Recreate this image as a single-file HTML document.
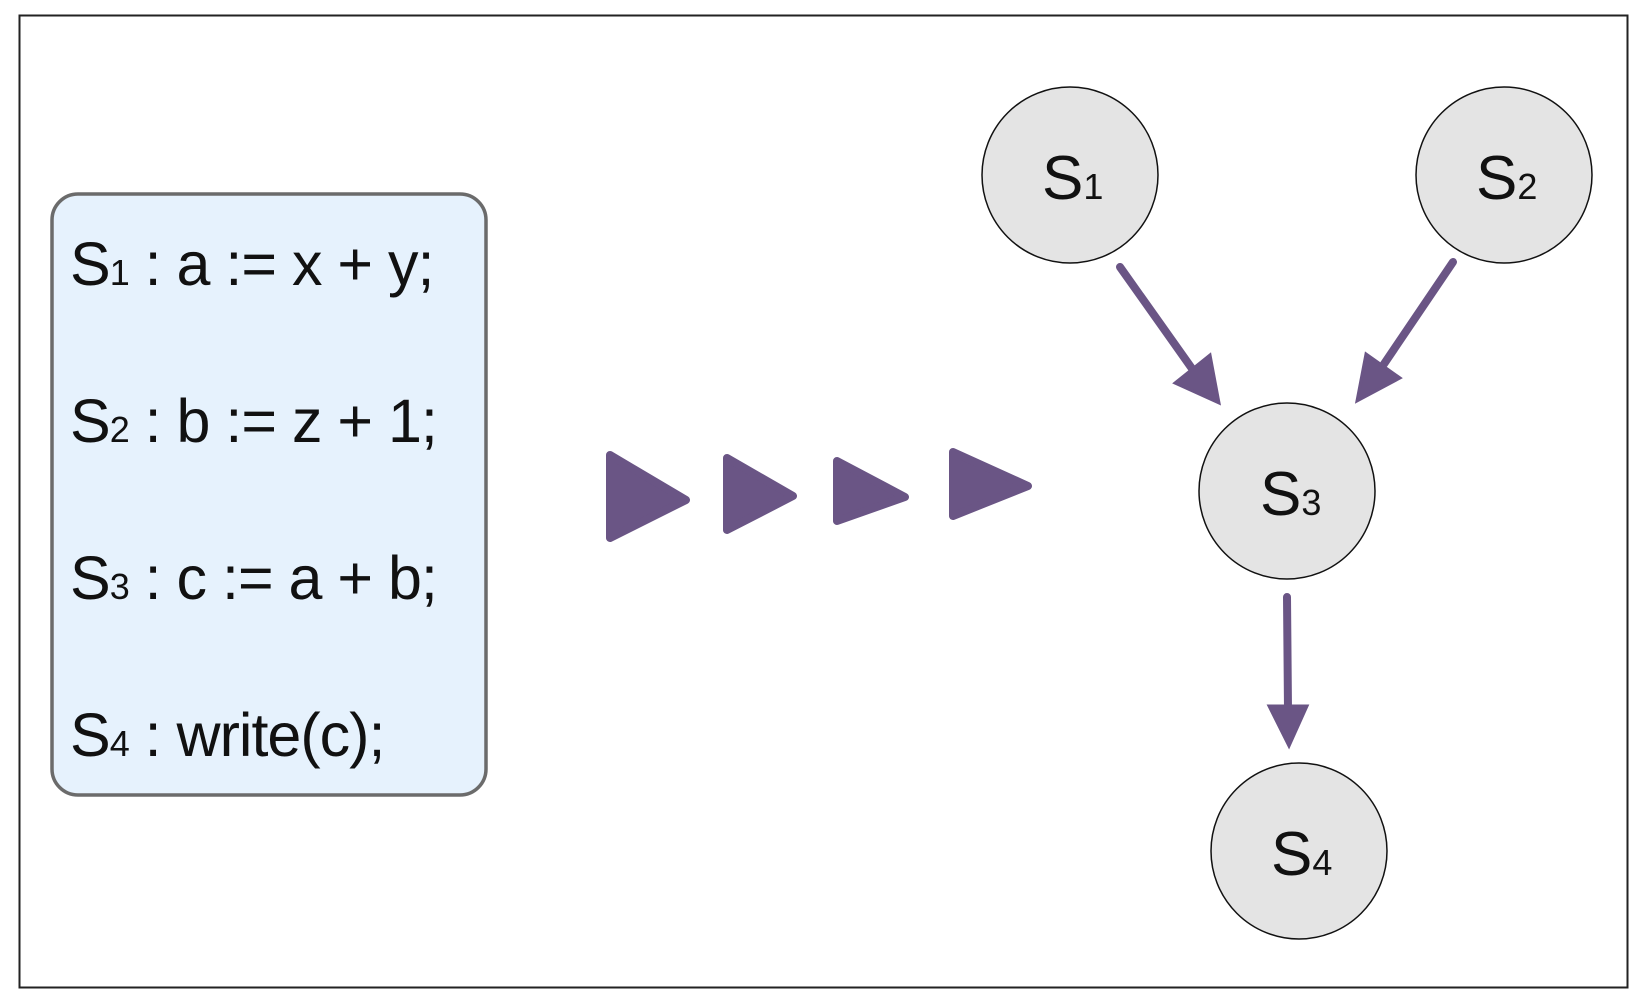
<!DOCTYPE html>
<html><head><meta charset="utf-8"><style>
html,body{margin:0;padding:0;background:#fff;}
svg{display:block;}
text{font-family:"Liberation Sans",sans-serif;fill:#111;}
</style></head><body>
<svg width="1641" height="1000" viewBox="0 0 1641 1000">
<rect x="19.5" y="15.5" width="1608" height="972" fill="#fff" stroke="#222" stroke-width="2"/>
<rect x="52" y="194" width="434" height="601" rx="26" fill="#e6f2fd" stroke="#6b6b6b" stroke-width="3.5"/>
<g font-size="61" letter-spacing="-1">
<text x="70" y="285">S<tspan font-size="36">1</tspan> : a := x + y;</text>
<text x="70" y="442">S<tspan font-size="36">2</tspan> : b := z + 1;</text>
<text x="70" y="599">S<tspan font-size="36">3</tspan> : c := a + b;</text>
<text x="70" y="756">S<tspan font-size="36">4</tspan> : write(c);</text>
</g>
<g fill="#6a5585" stroke="#6a5585" stroke-width="8" stroke-linejoin="round">
<path d="M610,455 L686,500 L610,538 Z"/>
<path d="M727,458 L793,496 L727,530 Z"/>
<path d="M837,461 L905,497 L837,521 Z"/>
<path d="M953,452 L1028,486 L953,516 Z"/>
</g>
<g stroke="#6a5585" stroke-width="8" fill="#6a5585" stroke-linecap="round">
<line x1="1120" y1="267" x2="1193" y2="370"/>
<path d="M1175,383 L1219,403 L1210,355 Z" stroke-width="3"/>
<line x1="1453" y1="262" x2="1384" y2="364"/>
<path d="M1366,354 L1357,401 L1400,378 Z" stroke-width="3"/>
<line x1="1287" y1="597" x2="1288" y2="710"/>
<path d="M1269,706 L1289,746 L1307,706 Z" stroke-width="3"/>
</g>
<g fill="#e4e4e4" stroke="#111" stroke-width="1.5">
<circle cx="1070" cy="175" r="88"/>
<circle cx="1504" cy="175" r="88"/>
<circle cx="1287" cy="491" r="88"/>
<circle cx="1299" cy="851" r="88"/>
</g>
<g font-size="62">
<text x="1042" y="199">S<tspan font-size="36">1</tspan></text>
<text x="1476" y="199">S<tspan font-size="36">2</tspan></text>
<text x="1260" y="515">S<tspan font-size="36">3</tspan></text>
<text x="1271" y="875">S<tspan font-size="36">4</tspan></text>
</g>
</svg>
</body></html>
